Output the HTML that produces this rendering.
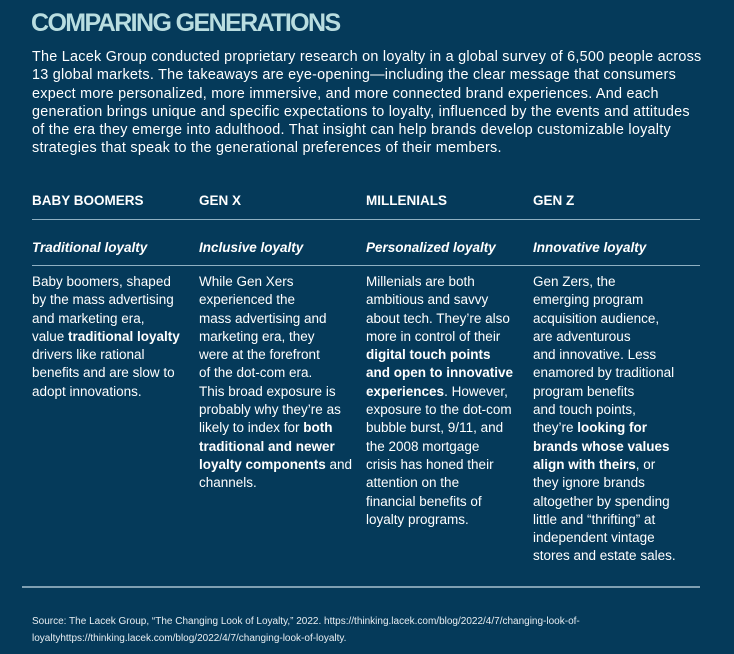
<!DOCTYPE html>
<html><head><style>
body{margin:0;width:734px;height:654px;background:#053a5a;font-family:"Liberation Sans",sans-serif;color:#fff;position:relative;overflow:hidden}
.a{position:absolute;white-space:nowrap}
h1{position:absolute;left:31px;top:9px;margin:0;font-size:25px;font-weight:bold;color:#b9dde0;letter-spacing:-1.6px}
.p{left:32px;top:48px;font-size:14.4px;line-height:18.3px;letter-spacing:0.25px}
.h{top:193px;font-size:13.5px;font-weight:bold}
.s{top:240px;font-size:13.5px;font-weight:bold;font-style:italic}
.b{top:273px;font-size:13.5px;line-height:18.3px}
.r{position:absolute;height:1px;background:#8fb0c2}
.src{left:32px;top:613px;font-size:10px;line-height:17px;color:#e8eef2}
</style></head><body>
<h1>COMPARING GENERATIONS</h1>
<div class="a p">The Lacek Group conducted proprietary research on loyalty in a global survey of 6,500 people across<br>13 global markets. The takeaways are eye-opening—including the clear message that consumers<br>expect more personalized, more immersive, and more connected brand experiences. And each<br>generation brings unique and specific expectations to loyalty, influenced by the events and attitudes<br>of the era they emerge into adulthood. That insight can help brands develop customizable loyalty<br>strategies that speak to the generational preferences of their members.</div>
<div class="a h" style="left:32px">BABY BOOMERS</div>
<div class="a h" style="left:199px">GEN X</div>
<div class="a h" style="left:366px">MILLENIALS</div>
<div class="a h" style="left:533px">GEN Z</div>
<div class="r" style="left:32px;top:219px;width:668px"></div>
<div class="a s" style="left:32px">Traditional loyalty</div>
<div class="a s" style="left:199px">Inclusive loyalty</div>
<div class="a s" style="left:366px">Personalized loyalty</div>
<div class="a s" style="left:533px">Innovative loyalty</div>
<div class="r" style="left:32px;top:265px;width:668px"></div>
<div class="a b" style="left:32px">Baby boomers, shaped<br>by the mass advertising<br>and marketing era,<br>value <b>traditional loyalty</b><br>drivers like rational<br>benefits and are slow to<br>adopt innovations.</div>
<div class="a b" style="left:199px">While Gen Xers<br>experienced the<br>mass advertising and<br>marketing era, they<br>were at the forefront<br>of the dot-com era.<br>This broad exposure is<br>probably why they’re as<br>likely to index for <b>both</b><br><b>traditional and newer</b><br><b>loyalty components</b> and<br>channels.</div>
<div class="a b" style="left:366px">Millenials are both<br>ambitious and savvy<br>about tech. They’re also<br>more in control of their<br><b>digital touch points</b><br><b>and open to innovative</b><br><b>experiences</b>. However,<br>exposure to the dot-com<br>bubble burst, 9/11, and<br>the 2008 mortgage<br>crisis has honed their<br>attention on the<br>financial benefits of<br>loyalty programs.</div>
<div class="a b" style="left:533px">Gen Zers, the<br>emerging program<br>acquisition audience,<br>are adventurous<br>and innovative. Less<br>enamored by traditional<br>program benefits<br>and touch points,<br>they’re <b>looking for</b><br><b>brands whose values</b><br><b>align with theirs</b>, or<br>they ignore brands<br>altogether by spending<br>little and “thrifting” at<br>independent vintage<br>stores and estate sales.</div>
<div class="r" style="left:22px;top:586px;width:678px;height:2px;background:#7f9fb2"></div>
<div class="a src">Source: The Lacek Group, “The Changing Look of Loyalty,” 2022. https://thinking.lacek.com/blog/2022/4/7/changing-look-of-<br>loyaltyhttps://thinking.lacek.com/blog/2022/4/7/changing-look-of-loyalty.</div>
</body></html>
